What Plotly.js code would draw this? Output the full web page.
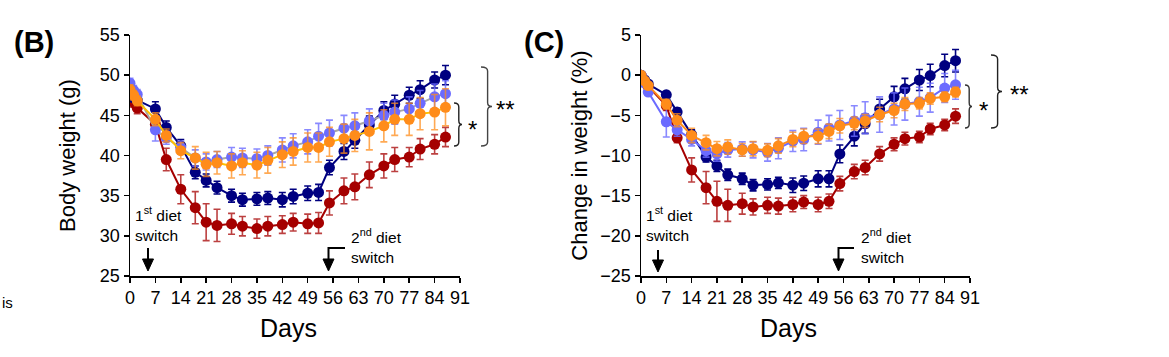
<!DOCTYPE html>
<html>
<head>
<meta charset="utf-8">
<script src="https://cdn.plot.ly/plotly-3.0.1.min.js"></script>
<style>html,body{margin:0;padding:0;background:#fff;}#chart{width:1169px;height:357px;}</style>
</head>
<body>
<div id="chart"></div>
<script>
// ---- Data ----
const days = [0,1,2,7,10,14,18,21,24,28,31,35,38,42,45,49,52,55,59,62,66,70,73,77,80,84,87];

// Panel B: body weight (g)
const bwNavy   = [48.0,47.2,46.9,45.8,43.5,41.2,37.9,36.9,36.0,35.0,34.5,34.6,34.7,34.5,34.9,35.3,35.4,38.5,40.5,41.9,43.8,45.6,46.4,47.5,48.2,49.4,50.0];
const bwNavyErr= [0.5,0.5,0.5,0.9,0.8,0.8,0.8,0.8,0.8,0.8,0.8,0.8,0.8,0.9,0.9,0.9,1.0,0.9,1.0,1.0,1.1,1.1,1.1,1.0,1.1,1.0,1.2];
const bwBlue   = [49.0,48.1,47.6,43.2,42.2,41.0,39.7,39.2,39.5,39.8,39.7,39.6,40.0,40.7,41.2,41.7,42.4,42.8,43.4,43.7,44.3,45.0,45.4,45.8,46.5,47.3,47.7];
const bwBlueErr= [0.6,0.6,0.6,1.4,0.8,0.8,1.0,1.0,1.0,1.2,1.2,1.2,1.2,1.5,1.5,1.5,1.6,1.6,1.6,1.6,1.5,1.5,1.5,1.5,1.6,1.6,1.6];
const bwOrange = [48.2,47.5,46.8,44.5,42.5,40.6,39.7,38.9,39.1,38.7,39.1,38.8,39.4,40.1,40.5,41.0,41.0,41.7,42.1,42.5,43.0,43.7,44.5,44.5,45.2,45.4,46.0];
const bwOrangeErr=[0.6,0.6,0.6,0.8,0.8,1.0,1.4,1.5,1.4,1.5,1.5,1.6,1.6,1.6,1.7,1.8,1.8,1.8,1.8,2.0,2.3,2.0,2.0,2.0,2.0,2.2,2.3];
const bwRed    = [47.5,46.6,45.9,43.9,39.5,35.8,33.5,31.7,31.3,31.5,31.2,30.9,31.2,31.4,31.7,31.5,31.6,34.1,35.6,36.1,37.6,38.7,39.5,39.8,40.8,41.4,42.3];
const bwRedErr = [0.6,0.6,0.7,0.8,1.4,1.8,2.0,2.3,2.0,1.3,1.2,1.2,1.2,1.1,1.1,1.2,1.3,1.5,1.6,1.6,1.6,1.5,1.5,1.2,1.3,1.2,1.2];

// Panel C: change in weight (%)
const chNavy   = [0,-0.6,-1.1,-2.45,-4.6,-7.4,-10.2,-11.3,-12.4,-12.9,-13.7,-13.6,-13.4,-13.7,-13.45,-12.9,-12.9,-9.8,-7.6,-6.05,-4.2,-2.7,-1.7,-0.6,-0.05,1.2,1.8];
const chNavyErr= [0,0.2,0.3,0.4,0.5,0.6,0.6,0.7,0.7,0.7,0.7,0.7,0.7,0.9,0.9,1.0,1.0,1.1,1.2,1.2,1.2,1.3,1.3,1.3,1.4,1.4,1.4];
const chBlue   = [0,-1.0,-2.1,-5.8,-6.8,-8.0,-9.4,-9.8,-9.3,-9.2,-9.3,-9.6,-9.1,-8.2,-8.0,-7.1,-6.6,-6.2,-5.7,-5.3,-4.9,-4.2,-3.6,-3.3,-2.8,-1.6,-1.2];
const chBlueErr= [0,0.3,0.4,1.9,0.8,0.8,0.8,0.9,0.9,0.9,1.0,1.1,1.3,1.3,1.4,1.5,1.6,1.8,1.9,2.0,2.2,2.0,2.0,1.8,1.8,1.8,1.8];
const chOrange = [0,-0.7,-1.3,-3.6,-5.6,-7.5,-8.4,-9.15,-8.95,-9.3,-9.15,-9.35,-8.8,-8.0,-7.6,-7.6,-7.0,-6.3,-6.0,-5.7,-4.9,-4.4,-3.6,-3.5,-2.9,-2.7,-2.1];
const chOrangeErr=[0,0.2,0.3,0.6,0.8,0.9,0.9,0.9,0.9,0.8,0.9,0.8,0.9,0.9,0.9,0.9,0.9,0.9,0.8,0.8,0.9,0.9,0.8,0.7,0.7,0.6,0.6];
const chRed    = [0,-0.8,-1.4,-3.8,-7.8,-11.8,-14.0,-15.7,-16.2,-16.0,-16.4,-16.2,-16.3,-16.1,-15.8,-16.1,-15.7,-13.5,-12.0,-11.5,-9.8,-8.6,-7.9,-7.7,-6.7,-6.2,-5.1];
const chRedErr = [0,0.3,0.4,0.6,0.6,1.5,2.0,2.5,2.0,1.3,1.0,1.0,1.0,0.9,0.8,0.9,0.9,0.9,0.9,0.9,0.9,0.8,0.8,0.7,0.7,0.7,0.9];

const xTicks = [0,7,14,21,28,35,42,49,56,63,70,77,84,91];
const yTicksB = [25,30,35,40,45,50,55];
const yTicksC = [-25,-20,-15,-10,-5,0,5];

// ---- Styles ----
const W = 1169, H = 357;
const FONT = "Arial, 'Liberation Sans', sans-serif";
const C = {navy:'#000080', blue:'#6B6BFF', orange:'#FF8C1A', red:'#A50000'};

function series(x, y, err, xa, ya, mColor, lColor, eColor) {
  return {
    type:'scatter', mode:'lines+markers', x:x, y:y, xaxis:xa, yaxis:ya,
    line:{color:lColor, width:2},
    marker:{color:mColor, size:11},
    error_y:{type:'data', array:err, visible:true, color:eColor, thickness:1.6, width:3.5},
    showlegend:false, hoverinfo:'x+y'
  };
}

const traces = [
  series(days, bwRed,    bwRedErr,    'x','y', C.red,    C.red,    'rgba(165,0,0,0.75)'),
  series(days, bwNavy,   bwNavyErr,   'x','y', C.navy,   C.navy,   C.navy),
  series(days, bwBlue,   bwBlueErr,   'x','y', C.blue,   '#A6A6A6','rgba(107,107,255,0.8)'),
  series(days, bwOrange, bwOrangeErr, 'x','y', C.orange, '#FFC000','rgba(255,140,26,0.75)'),
  series(days, chRed,    chRedErr,    'x2','y2', C.red,    C.red,    'rgba(165,0,0,0.75)'),
  series(days, chNavy,   chNavyErr,   'x2','y2', C.navy,   C.navy,   C.navy),
  series(days, chBlue,   chBlueErr,   'x2','y2', C.blue,   C.blue,   'rgba(107,107,255,0.8)'),
  series(days, chOrange, chOrangeErr, 'x2','y2', C.orange, C.orange, 'rgba(255,140,26,0.75)')
];

const px = v => v / W;
const py = v => 1 - v / H;

function axisX(domain, anchor) {
  return {
    domain: domain, anchor: anchor, range:[0,91], tickvals:xTicks,
    showgrid:false, zeroline:false, showline:true, linecolor:'#000', linewidth:1.5,
    ticks:'outside', ticklen:5, tickcolor:'#000', tickwidth:1.5,
    tickfont:{family:FONT, size:18, color:'#000'}
  };
}
function axisY(domain, anchor, range, vals, title, standoff) {
  return {
    domain: domain, anchor: anchor, range: range, tickvals: vals,
    showgrid:false, zeroline:false, showline:true, linecolor:'#000', linewidth:1.5,
    ticks:'outside', ticklen:5, tickcolor:'#000', tickwidth:1.5,
    tickfont:{family:FONT, size:18, color:'#000'},
    title:{text:title, font:{family:FONT, size:22, color:'#000'}, standoff:standoff}
  };
}

const P = (x, y) => px(x).toFixed(5) + ',' + py(y).toFixed(5);
// curly brace path in pixel coords -> paper coords
function brace(x0, yTop, yBot, xTip) {
  const x1 = x0 + (xTip - x0) * 0.6;
  const ym = (yTop + yBot) / 2;
  const r = 4;
  return 'M' + P(x0, yTop) + ' Q' + P(x1, yTop) + ' ' + P(x1, yTop + r) +
         ' L' + P(x1, ym - r) + ' Q' + P(x1, ym) + ' ' + P(xTip, ym) +
         ' Q' + P(x1, ym) + ' ' + P(x1, ym + r) +
         ' L' + P(x1, yBot - r) + ' Q' + P(x1, yBot) + ' ' + P(x0, yBot);
}
function arrowLine(xv, yTop, yTip, xEnd) {
  const start = (xEnd !== undefined) ? ('M' + P(xEnd, yTop) + ' L' + P(xv, yTop)) : ('M' + P(xv, yTop));
  return start + ' L' + P(xv, yTip - 10);
}
function arrowHead(xv, yTip) {
  return 'M' + P(xv - 5.5, yTip - 12) + ' L' + P(xv + 5.5, yTip - 12) + ' L' + P(xv, yTip) + ' Z';
}

const shapes = [
  {type:'path', xref:'paper', yref:'paper', path:brace(454, 103, 146, 462), line:{color:'#222', width:1.4}},
  {type:'path', xref:'paper', yref:'paper', path:brace(481, 67, 146, 492), line:{color:'#444', width:1.4}},
  {type:'path', xref:'paper', yref:'paper', path:brace(965, 85, 128, 972), line:{color:'#333', width:1.4}},
  {type:'path', xref:'paper', yref:'paper', path:brace(991, 55, 128, 1002), line:{color:'#222', width:1.4}},
  {type:'path', xref:'paper', yref:'paper', path:arrowLine(148, 248, 271), line:{color:'#000', width:2}},
  {type:'path', xref:'paper', yref:'paper', path:arrowHead(148, 271), fillcolor:'#000', line:{color:'#000', width:1}},
  {type:'path', xref:'paper', yref:'paper', path:arrowLine(658, 250, 272), line:{color:'#000', width:2}},
  {type:'path', xref:'paper', yref:'paper', path:arrowHead(658, 272), fillcolor:'#000', line:{color:'#000', width:1}},
  {type:'path', xref:'paper', yref:'paper', path:arrowLine(328.5, 248, 271, 345), line:{color:'#000', width:2}},
  {type:'path', xref:'paper', yref:'paper', path:arrowHead(328.5, 271), fillcolor:'#000', line:{color:'#000', width:1}},
  {type:'path', xref:'paper', yref:'paper', path:arrowLine(838.5, 248, 271, 854), line:{color:'#000', width:2}},
  {type:'path', xref:'paper', yref:'paper', path:arrowHead(838.5, 271), fillcolor:'#000', line:{color:'#000', width:1}}
];

function txt(x, y, text, size, extra) {
  return Object.assign({xref:'paper', yref:'paper', x:px(x), y:py(y), text:text, showarrow:false,
    xanchor:'left', yanchor:'middle', align:'left',
    font:{family:FONT, size:size, color:'#000'}}, extra || {});
}

const annotations = [
  txt(12, 42, '<b>(B)</b>', 29),
  txt(522, 42, '<b>(C)</b>', 29),
  txt(133, 224, '1<sup>st</sup> diet<br>switch', 15.5),
  txt(644, 224, '1<sup>st</sup> diet<br>switch', 15.5),
  txt(349, 246, '2<sup>nd</sup> diet<br>switch', 15.5),
  txt(859, 246, '2<sup>nd</sup> diet<br>switch', 15.5),
  txt(466, 129, '*', 24),
  txt(494, 109, '**', 24),
  txt(977, 110, '*', 24),
  txt(1008, 95, '**', 24),
  txt(0, 302, 'is', 15),
  txt(288, 328, 'Days', 25, {xanchor:'center'}),
  txt(788, 328, 'Days', 25, {xanchor:'center'})
];

const layout = {
  width: W, height: H,
  margin:{l:0, r:0, t:0, b:0},
  paper_bgcolor:'#fff', plot_bgcolor:'#fff',
  font:{family:FONT, color:'#000'},
  showlegend:false,
  xaxis: axisX([px(130), px(460)], 'y'),
  yaxis: axisY([py(276), py(35)], 'x', [25,55], yTicksB, 'Body weight (g)', 18),
  xaxis2: axisX([px(641), px(970)], 'y2'),
  yaxis2: axisY([py(276), py(35)], 'x2', [-25,5], yTicksC, 'Change in weight (%)', 6),
  shapes: shapes,
  annotations: annotations
};

Plotly.newPlot('chart', traces, layout, {displayModeBar:false, staticPlot:true});
</script>
</body>
</html>
